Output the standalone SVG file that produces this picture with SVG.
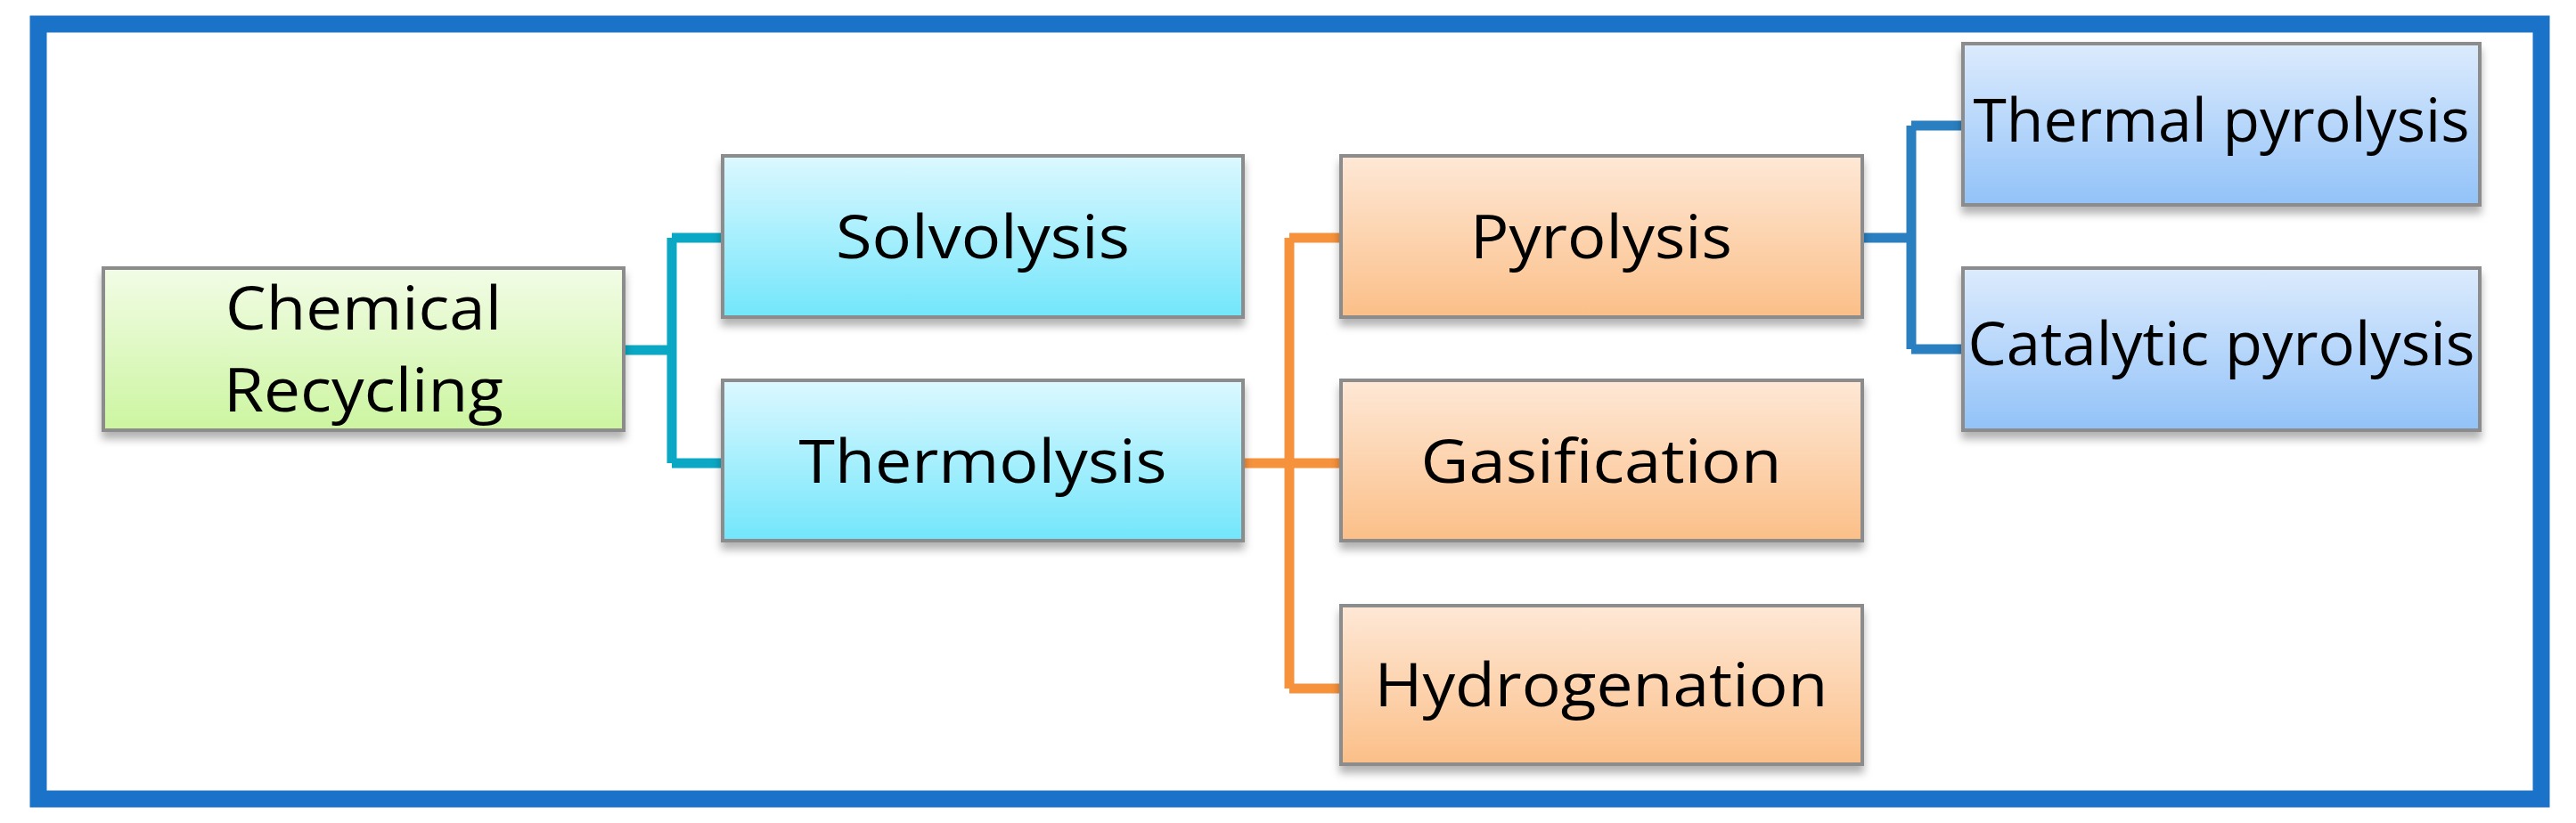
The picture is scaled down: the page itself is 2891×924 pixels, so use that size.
<svg xmlns="http://www.w3.org/2000/svg" width="2891" height="924" viewBox="0 0 2891 924">
<defs>
<linearGradient id="gG" x1="0" y1="0" x2="0" y2="1"><stop offset="0" stop-color="#f2fce6"/><stop offset="1" stop-color="#ccf5a0"/></linearGradient>
<linearGradient id="gC" x1="0" y1="0" x2="0" y2="1"><stop offset="0" stop-color="#dcf8ff"/><stop offset="1" stop-color="#72e6fb"/></linearGradient>
<linearGradient id="gO" x1="0" y1="0" x2="0" y2="1"><stop offset="0" stop-color="#fee8d6"/><stop offset="1" stop-color="#fbbf88"/></linearGradient>
<linearGradient id="gB" x1="0" y1="0" x2="0" y2="1"><stop offset="0" stop-color="#dcebfd"/><stop offset="1" stop-color="#92c2f8"/></linearGradient>
<filter id="sh" x="-5%" y="-5%" width="110%" height="125%"><feDropShadow dx="0" dy="8" stdDeviation="5" flood-color="#000" flood-opacity="0.3"/></filter>
</defs>
<style>
.box{stroke:#8c8c8c;stroke-width:4;filter:url(#sh)}
.t{font-family:"Open Sans","Noto Sans",sans-serif;font-size:68px;fill:#000;text-anchor:middle}
.c{fill:none;stroke-width:11}
</style>
<rect x="0" y="0" width="2891" height="924" fill="#fff"/>
<rect x="43" y="27" width="2809" height="870" fill="none" stroke="#1a73c8" stroke-width="19"/>
<g id="connectors">
<path class="c" stroke="#0aa8c4" d="M700 393H754M754 267V520M754 267H811M754 520H811"/>
<path class="c" stroke="#f7923c" d="M1395 520H1447M1447 267V773M1447 267H1505M1447 520H1505M1447 773H1505"/>
<path class="c" stroke="#2a7fc0" d="M2090 267H2145M2145 141V392M2145 141H2203M2145 392H2203"/>
</g>
<g id="chemical"><rect class="box" x="116" y="301" width="584" height="182" fill="url(#gG)"/><text class="t" x="408" y="370" textLength="310" lengthAdjust="spacingAndGlyphs">Chemical</text><text class="t" x="408" y="462" textLength="314" lengthAdjust="spacingAndGlyphs">Recycling</text></g>
<g id="solvolysis"><rect class="box" x="811" y="175" width="584" height="181" fill="url(#gC)"/><text class="t" x="1103" y="290" textLength="330" lengthAdjust="spacingAndGlyphs">Solvolysis</text></g>
<g id="thermolysis"><rect class="box" x="811" y="427" width="584" height="180" fill="url(#gC)"/><text class="t" x="1103" y="542" textLength="413" lengthAdjust="spacingAndGlyphs">Thermolysis</text></g>
<g id="pyrolysis"><rect class="box" x="1505" y="175" width="585" height="181" fill="url(#gO)"/><text class="t" x="1797" y="290" textLength="294" lengthAdjust="spacingAndGlyphs">Pyrolysis</text></g>
<g id="gasification"><rect class="box" x="1505" y="427" width="585" height="180" fill="url(#gO)"/><text class="t" x="1797" y="542" textLength="405" lengthAdjust="spacingAndGlyphs">Gasification</text></g>
<g id="hydrogenation"><rect class="box" x="1505" y="680" width="585" height="178" fill="url(#gO)"/><text class="t" x="1797" y="793" textLength="509" lengthAdjust="spacingAndGlyphs">Hydrogenation</text></g>
<g id="thermal"><rect class="box" x="2203" y="49" width="580" height="181" fill="url(#gB)"/><text class="t" x="2493" y="159" textLength="557" lengthAdjust="spacingAndGlyphs">Thermal pyrolysis</text></g>
<g id="catalytic"><rect class="box" x="2203" y="301" width="580" height="182" fill="url(#gB)"/><text class="t" x="2493" y="410" textLength="569" lengthAdjust="spacingAndGlyphs">Catalytic pyrolysis</text></g>
</svg>
